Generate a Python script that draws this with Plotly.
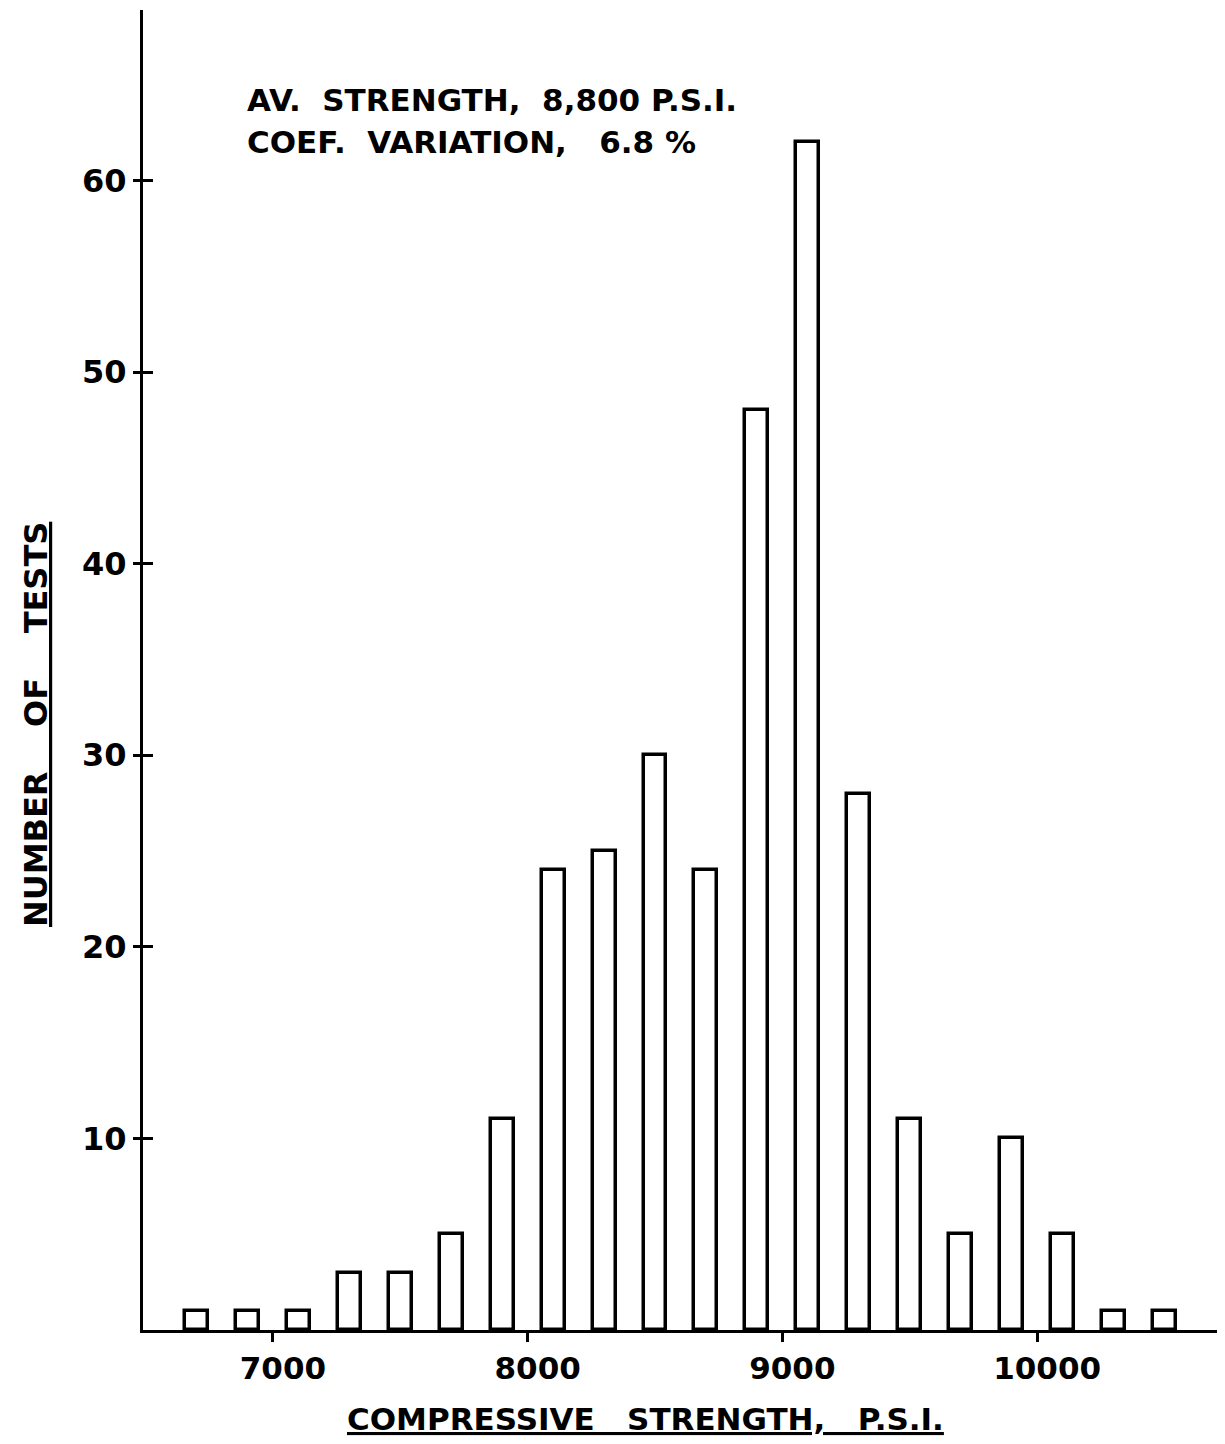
import plotly.graph_objects as go

# Data
strength_psi = [6700, 6900, 7100, 7300, 7500, 7700, 7900, 8100, 8300, 8500,
                8700, 8900, 9100, 9300, 9500, 9700, 9900, 10100, 10300, 10500]
num_tests = [1, 1, 1, 3, 3, 5, 11, 24, 25, 30,
             24, 48, 62, 28, 11, 5, 10, 5, 1, 1]
x_tick_vals = [7000, 8000, 9000, 10000]
x_tick_text = ["7000", "8000", "9000", "10000"]
y_tick_vals = [10, 20, 30, 40, 50, 60]
y_tick_text = ["10", "20", "30", "40", "50", "60"]

FONT = "DejaVu Sans"
NB = "\u00a0"

fig = go.Figure()
fig.add_trace(go.Bar(
    x=strength_psi, y=num_tests, width=90,
    marker=dict(color="white", line=dict(color="black", width=3.5)),
    showlegend=False, hoverinfo="x+y",
))
# invisible helper trace for the crossing tick overlay axis
fig.add_trace(go.Scatter(x=[strength_psi[0]], y=[num_tests[0]], yaxis="y2",
                         mode="markers", marker=dict(opacity=0),
                         showlegend=False, hoverinfo="skip"))

fig.update_layout(
    width=1225, height=1444,
    margin=dict(l=135, r=13, t=2, b=122),
    paper_bgcolor="white", plot_bgcolor="white",
    font=dict(family=FONT, color="black", size=26, weight="bold"),
    bargap=0,
    xaxis=dict(
        range=[6490, 10718], showgrid=False, zeroline=False,
        showline=True, linecolor="black", linewidth=3,
        tickmode="array", tickvals=x_tick_vals, ticktext=x_tick_text,
        ticks="outside", ticklen=9, tickwidth=3, tickcolor="black",
        tickfont=dict(family=FONT, size=31, color="black", weight="bold"),
        ticklabelshift=10,
    ),
    yaxis=dict(
        range=[0, 68.9], showgrid=False, zeroline=False,
        showline=True, linecolor="black", linewidth=3,
        tickmode="array", tickvals=y_tick_vals, ticktext=y_tick_text,
        ticks="outside", ticklen=7, tickwidth=3, tickcolor="black",
        tickfont=dict(family=FONT, size=32, color="black", weight="bold"),
    ),
    yaxis2=dict(
        overlaying="y", side="left", matches="y", range=[0, 68.9],
        showgrid=False, zeroline=False, showline=False,
        tickmode="array", tickvals=y_tick_vals, showticklabels=False,
        ticks="inside", ticklen=10, tickwidth=3, tickcolor="black",
    ),
    annotations=[
        dict(xref="paper", yref="paper", x=(245 - 143) / 1077, y=(1330 - 100) / 1320,
             xanchor="left", yanchor="middle", showarrow=False,
             text="AV." + NB * 2 + "STRENGTH," + NB * 2 + "8,800" + NB + "P.S.I.",
             font=dict(family=FONT, size=31, color="black", weight="bold")),
        dict(xref="paper", yref="paper", x=(245 - 143) / 1077, y=(1330 - 142) / 1320,
             xanchor="left", yanchor="middle", showarrow=False,
             text="COEF." + NB * 2 + "VARIATION," + NB * 3 + "6.8" + NB + "%",
             font=dict(family=FONT, size=31, color="black", weight="bold")),
        dict(xref="paper", yref="paper", x=(645 - 143) / 1077, y=(1330 - 1419) / 1320,
             xanchor="center", yanchor="middle", showarrow=False,
             text="<u>COMPRESSIVE" + NB * 3 + "STRENGTH," + NB * 3 + "P.S.I.</u>",
             font=dict(family=FONT, size=31, color="black", weight="bold")),
        dict(xref="paper", yref="paper", x=(36 - 143) / 1077, y=(1330 - 725) / 1320,
             xanchor="center", yanchor="middle", showarrow=False, textangle=-90,
             text="<u>NUMBER" + NB * 4 + "OF" + NB * 4 + "TESTS</u>",
             font=dict(family=FONT, size=32, color="black", weight="bold")),
    ],
)

fig.write_html("out.html")
